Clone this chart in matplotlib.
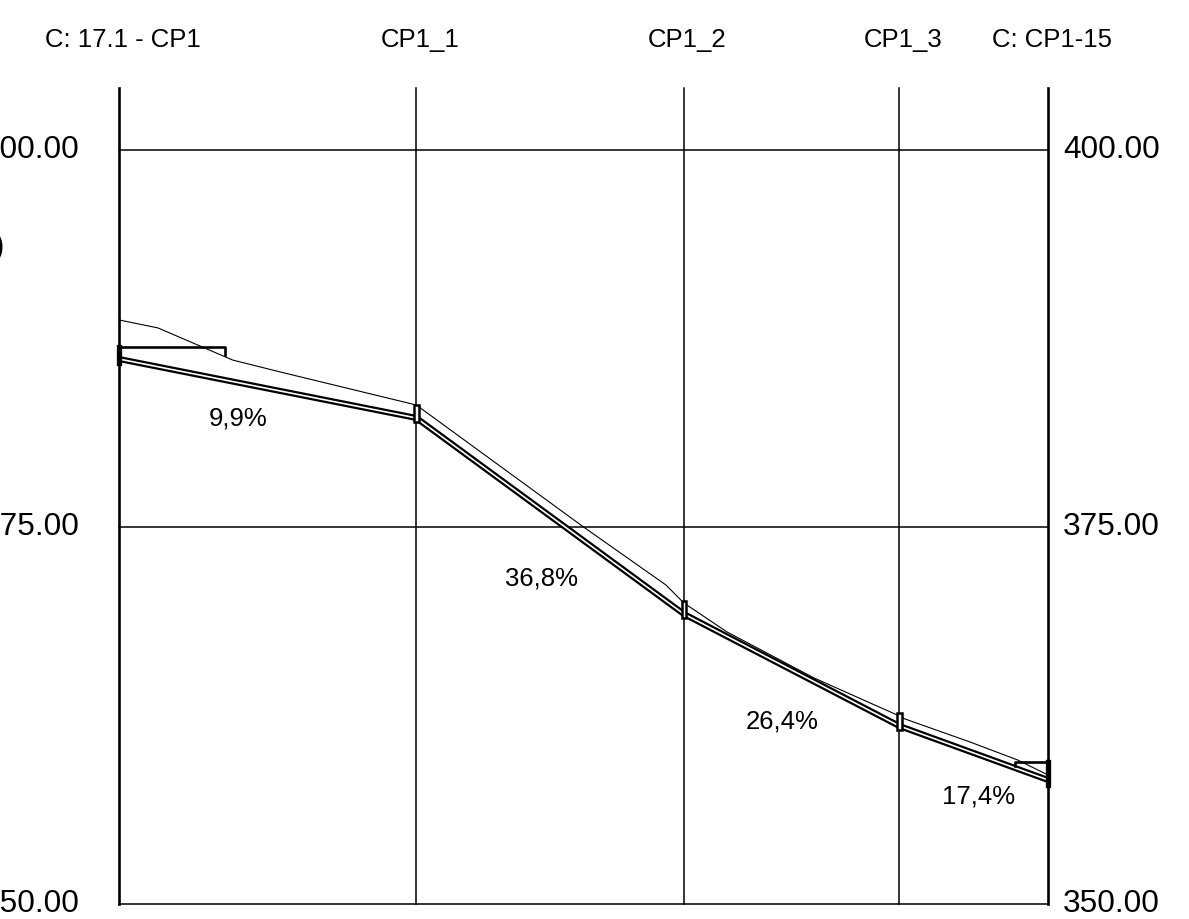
import matplotlib.pyplot as plt
from matplotlib.patches import Rectangle

plt.rcParams['font.family'] = ['Liberation Sans', 'DejaVu Sans']

# Stations (m) and labels of the manholes
stations = [0, 40, 76, 105, 125]
station_labels = ['C: 17.1 - CP1', 'CP1_1', 'CP1_2', 'CP1_3', 'C: CP1-15']

# Pipe axis elevations at each station (m)
pipe_elev = [386.14, 382.23, 369.23, 361.80, 358.22]
slope_labels = ['9,9%', '36,8%', '26,4%', '17,4%']
slope_label_pos = [(16.0, 382.2), (56.9, 371.6), (89.3, 362.1), (115.6, 357.1)]

# Terrain line
ground_x = [0, 5.25, 15.3, 21.7, 40, 62.5, 73.6, 76, 81.8, 93.5, 104.7, 105, 114.5, 120.9, 125]
ground_y = [388.73, 388.20, 386.07, 385.28, 383.09, 375.0, 371.15, 369.96, 368.04, 364.99,
            362.53, 362.40, 360.74, 359.55, 358.55]

elev_ticks = [350, 375, 400]
elev_labels = ['350.00', '375.00', '400.00']

fig = plt.figure(figsize=(11.89, 9.19), dpi=100)
ax = fig.add_axes([0, 0, 1, 1])
ax.set_xlim(-16.01, 143.97)
ax.set_ylim(349.0, 409.95)
ax.axis('off')

# horizontal grid lines with elevation labels on both sides
for e, lab in zip(elev_ticks, elev_labels):
    ax.plot([stations[0], stations[-1]], [e, e], color='black', lw=1.1)
    ax.text(-5.35, e, lab, ha='right', va='center', fontsize=22.8)
    ax.text(127.0, e, lab, ha='left', va='center', fontsize=22.8)

# vertical station lines and labels
for i, (s, lab) in enumerate(zip(stations, station_labels)):
    lw = 1.9 if i in (0, len(stations) - 1) else 1.1
    ax.plot([s, s], [350, 404.1], color='black', lw=lw)
    ax.text(s + 0.5, 407.3, lab, ha='center', va='center', fontsize=18.5)

ax.text(-15.47, 393.6, '(m)', ha='right', va='center', fontsize=22.8)

# terrain
ax.plot(ground_x, ground_y, color='black', lw=0.8)

# pipe as a double line
ax.plot(stations, pipe_elev, color='black', lw=4.4, solid_capstyle='butt')
ax.plot(stations, pipe_elev, color='white', lw=1.2, solid_capstyle='butt')

# manholes
for s, e in zip(stations[1:-1], pipe_elev[1:-1]):
    ax.add_patch(Rectangle((s - 0.3, e - 0.25), 0.6, 1.1, facecolor='white',
                           edgecolor='black', lw=1.8, zorder=3))

# start and end structures
ax.plot([stations[0], stations[0]], [pipe_elev[0] - 0.25, 386.94], color='black', lw=3.8)
ax.plot([stations[0], 14.3, 14.3], [386.94, 386.94, 386.4], color='black', lw=1.9)
ax.plot([stations[-1], stations[-1]], [pipe_elev[-1] - 0.35, 359.42], color='black', lw=3.8)
ax.plot([stations[-1], 120.6, 120.6], [359.42, 359.42, 359.15], color='black', lw=1.9)

for lab, (x, y) in zip(slope_labels, slope_label_pos):
    ax.text(x, y, lab, ha='center', va='center', fontsize=18.5)

fig.savefig('out.png', dpi=100)
